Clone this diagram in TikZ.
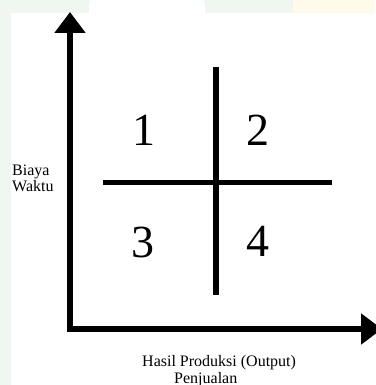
\documentclass[tikz,border=0pt]{standalone}
\usepackage{fontspec}
\setmainfont{Liberation Serif}
\usetikzlibrary{arrows.meta}
\definecolor{bggreen}{HTML}{F0F7F0}
\definecolor{bgyellow}{HTML}{FFFAEA}
\tikzset{
  axis/.style={line width=5.5pt, -{Triangle[width=30pt,length=21pt]}},
  divider/.style={line width=5.5pt},
  quad/.style={font=\fontsize{46}{46}\selectfont, anchor=base, inner sep=0pt},
  lbl/.style={font=\fontsize{16}{17}\selectfont, anchor=base west, inner sep=0pt}
}
\begin{document}
\begin{tikzpicture}[x=1pt,y=-1pt]
\useasboundingbox (0,0) rectangle (375,385);
% background
\fill[bggreen] (0,0) rectangle (375,385);
\fill[bgyellow] (293,0) rectangle (375,13);
\fill[white] (11,13) rectangle (375,385);
\begin{scope}
\clip (0,0) rectangle (375,13);
\fill[white] (147,60) ellipse (60 and 200);
\end{scope}
% coordinates
\coordinate (o) at (70,329);
\coordinate (ytip) at (70,12);
\coordinate (xtip) at (382,329);
\coordinate (vtop) at (216,67);
\coordinate (vbot) at (216,295);
\coordinate (hl) at (103,182.5);
\coordinate (hr) at (332,182.5);
% axes
\draw[axis] (70,331.75) -- (ytip);
\draw[axis] (67.25,329) -- (xtip);
% dividers
\draw[divider] (vtop) -- (vbot);
\draw[divider] (hl) -- (hr);
% quadrant numbers
\node[quad] (q1) at (144,145) {1};
\node[quad] (q2) at (258,145) {2};
\node[quad] (q3) at (143,257) {3};
\node[quad] (q4) at (257.5,256) {4};
% labels
\node[lbl] (ya) at (12,175) {Biaya};
\node[lbl] (yb) at (12,191) {Waktu};
\node[lbl] (xa) at (142,366) {Hasil Produksi (Output)};
\node[lbl] (xb) at (174,383) {Penjualan};
\end{tikzpicture}
\end{document}
